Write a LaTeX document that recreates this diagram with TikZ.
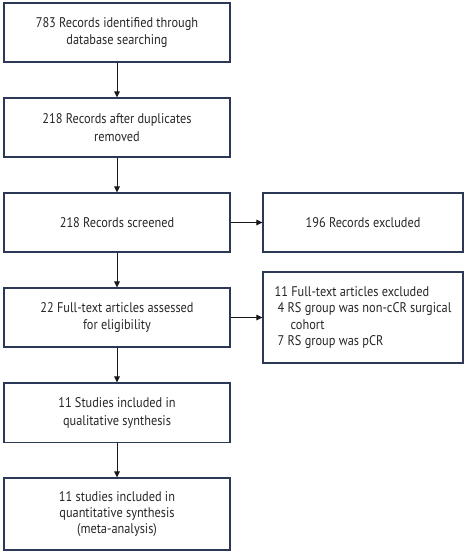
\documentclass[tikz,border=0pt]{standalone}
\usepackage{fontspec}
\setmainfont[FakeStretch=0.88]{PT Sans}
\usetikzlibrary{arrows.meta}
\definecolor{boxline}{HTML}{2B3856}
\begin{document}
\begin{tikzpicture}[x=1pt,y=-1pt,
  box/.style={draw=boxline, line width=1.1pt, rectangle, inner sep=0pt,
    font=\fontsize{14}{17.5}\selectfont, align=center, text=black!85},
  conn/.style={line width=1pt, black!90, -{Triangle[length=6pt,width=5.5pt]}}]
\useasboundingbox (0,0) rectangle (468,553);
\node[box, minimum width=226pt, minimum height=59pt] (b1) at (117,32.5) {783 Records identified through\\database searching};
\node[box, minimum width=226pt, minimum height=59pt] (b2) at (117,127.5) {218 Records after duplicates\\removed};
\node[box, minimum width=226pt, minimum height=59pt] (b3) at (117,222.5) {218 Records screened};
\node[box, minimum width=226pt, minimum height=59pt] (b4) at (117,317.5) {22 Full-text articles assessed\\for eligibility};
\node[box, minimum width=226pt, minimum height=59.7pt] (b5) at (117,412.85) {11 Studies included in\\qualitative synthesis};
\node[box, minimum width=226pt, minimum height=72pt, font=\fontsize{14}{16}\selectfont] (b6) at (117,514) {11 studies included in\\quantitative synthesis\\(meta-analysis)};
\node[box, minimum width=200pt, minimum height=59pt] (r1) at (363,222.5) {196 Records excluded};
\node[box, minimum width=200pt, minimum height=91pt, align=left, font=\fontsize{14}{16.5}\selectfont] (r2) at (363,317.5) {11 Full-text articles excluded\\\hspace*{3pt}4 RS group was non-cCR surgical\\\hspace*{16pt}cohort\\\hspace*{3pt}7 RS group was pCR};
\draw[conn] (b1) -- (b2);
\draw[conn] (b2) -- (b3);
\draw[conn] (b3) -- (b4);
\draw[conn] (b4) -- (b5);
\draw[conn] (b5) -- (b6);
\draw[conn] (b3) -- (r1);
\draw[conn] (b4.east) -- (b4.east -| r2.west);
\end{tikzpicture}
\end{document}
